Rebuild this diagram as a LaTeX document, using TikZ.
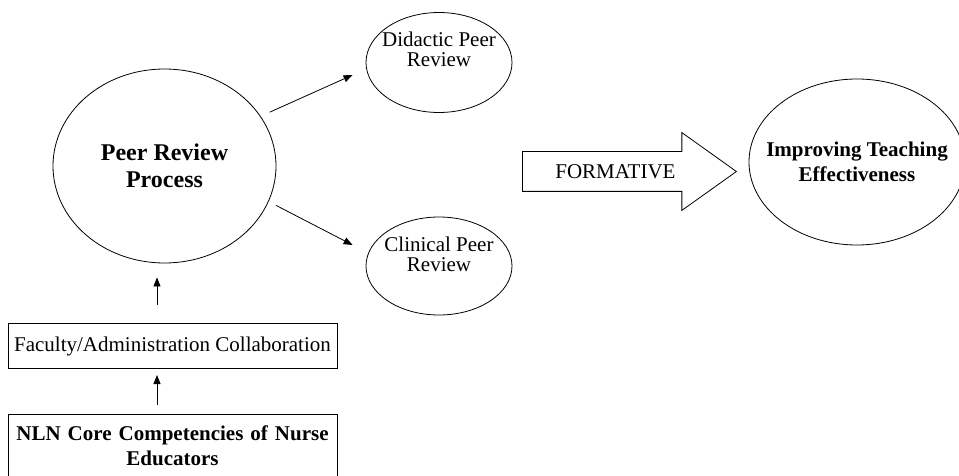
\documentclass[tikz,border=0pt]{standalone}
\usepackage{fontspec}
\setmainfont{Liberation Serif}
\usepackage{tikz}
\usetikzlibrary{positioning,shapes.geometric,shapes.arrows,arrows.meta}

\tikzset{
    arr/.style={-{Triangle[length=9pt,width=7pt]}, line width=0.8pt},
    oval/.style={draw, ellipse, inner sep=0pt, line width=0.8pt, align=center},
    box/.style={draw, rectangle, line width=0.8pt, minimum width=329pt, align=center},
    txt/.style={font=\fontsize{21}{20}\selectfont},
}

\begin{document}
\begin{tikzpicture}[x=1pt, y=-1pt]
                \path[use as bounding box, clip] (0,0) rectangle (959,476);

                \node [oval, minimum width=223pt, minimum height=194pt,
                       font=\fontsize{24}{27}\selectfont\bfseries] (prp) at (164.5,166) {Peer Review\\Process};
                \node [oval, txt, inner xsep=-12pt, minimum width=146pt, minimum height=100pt, text depth=26pt] (did) at (439,62.5) {Didactic Peer\\Review};
                \node [oval, txt, inner xsep=-12pt, minimum width=146pt, minimum height=98pt, text depth=24pt] (cli) at (439,266) {Clinical Peer\\Review};
                \node [oval, inner xsep=-22pt, minimum width=216pt, minimum height=166pt,
                       font=\fontsize{21}{25}\selectfont\bfseries] (imp) at (857,162) {Improving Teaching\\Effectiveness};

                \node [draw, single arrow, txt, anchor=tail, line width=0.8pt,
                       single arrow head extend=19pt, single arrow tip angle=71,
                       minimum height=214pt, inner ysep=12.5pt, text height=14pt, text depth=0pt] (form) at (522,171.5) {FORMATIVE};

                \node [box, minimum height=62pt, text width=320pt, anchor=north,
                       font=\fontsize{21}{25}\selectfont\bfseries] (nln) at (172.5,414) {NLN Core Competencies of Nurse\\Educators};
                \node [box, txt, minimum height=45pt, above=45pt of nln] (fac) {Faculty/Administration Collaboration};

                \draw [arr] ([xshift=12pt]prp.30) -- ([shift={(-13pt,-12.5pt)}]did.west);
                \draw [arr] ([xshift=9pt]prp.-21) -- ([shift={(-13pt,21pt)}]cli.west);
                \draw [arr] ([xshift=-15.5pt,yshift=18pt]fac.north) -- ([xshift=-7.5pt,yshift=-14pt]prp.south);
                \draw [arr] ([xshift=-15.5pt,yshift=9pt]nln.north) -- ([xshift=-15.5pt,yshift=-6pt]fac.south);
            \end{tikzpicture}
\end{document}
